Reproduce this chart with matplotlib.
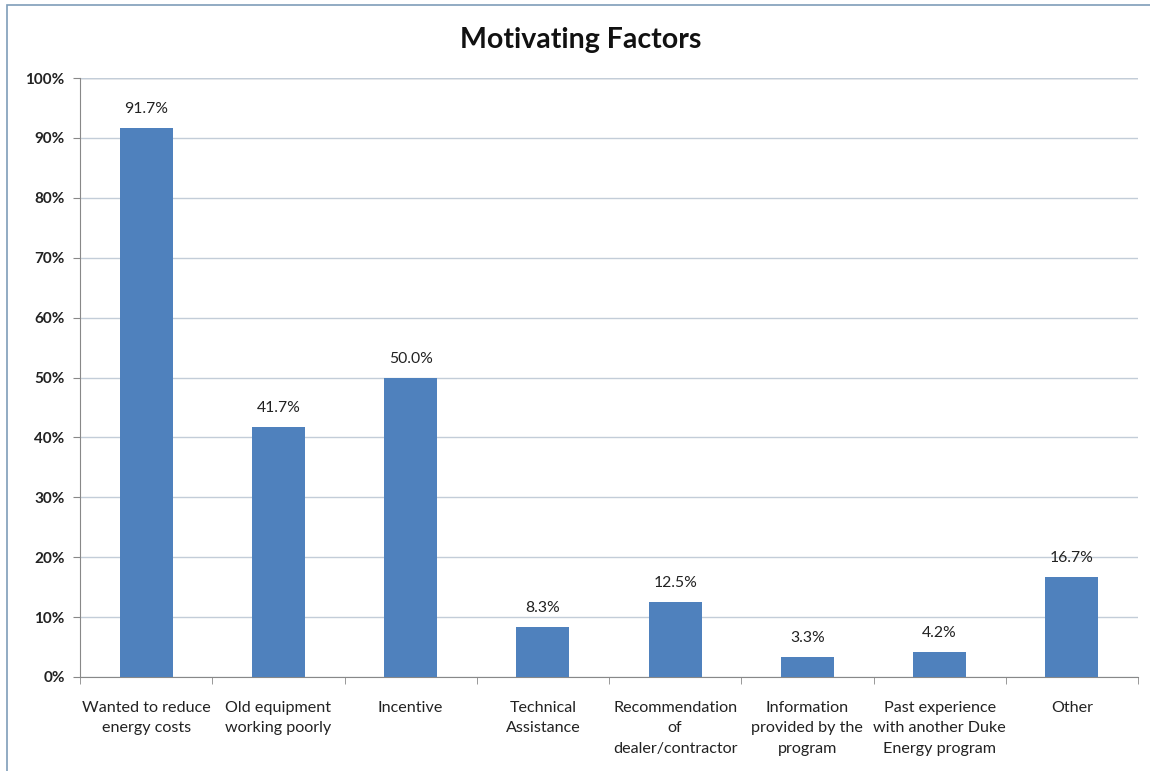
import matplotlib.pyplot as plt
import numpy as np
from matplotlib.patches import Rectangle

categories = ["Wanted to reduce\nenergy costs", "Old equipment\nworking poorly", "Incentive",
              "Technical\nAssistance", "Recommendation\nof\ndealer/contractor",
              "Information\nprovided by the\nprogram", "Past experience\nwith another Duke\nEnergy program",
              "Other"]
values = [91.7, 41.7, 50.0, 8.3, 12.5, 3.3, 4.2, 16.7]
y_ticks = [0, 10, 20, 30, 40, 50, 60, 70, 80, 90, 100]

BAR_COLOR = '#4F81BD'
GRID_COLOR = '#C3CDD8'

plt.rcParams['font.family'] = ['Lato', 'DejaVu Sans']

W, H = 1150, 771
fig = plt.figure(figsize=(W / 100, H / 100), dpi=100)
fig.patch.set_facecolor('white')

# chart border, open to the right and bottom
fig.add_artist(Rectangle((7 / W, -0.1), 1.2, 1.1 - 5 / H, transform=fig.transFigure,
                         fill=False, edgecolor='#7F9DB9', linewidth=1.2))

ax = fig.add_axes([80 / W, 1 - 677 / H, (1138 - 80) / W, (677 - 78) / H])
x = np.arange(len(values))
ax.bar(x, values, width=0.4, color=BAR_COLOR, zorder=3)

for xi, v in zip(x, values):
    ax.text(xi, v + 2.0, '%.1f%%' % v, ha='center', va='bottom', fontsize=11.3, color='#222222')

ax.set_xlim(-0.5, len(values) - 0.5)
ax.set_ylim(0, 100)
ax.set_yticks(y_ticks)
ax.set_yticklabels(['%d%%' % t for t in y_ticks], fontsize=11, fontweight='bold', color='#222222')
ax.yaxis.grid(True, color=GRID_COLOR, linewidth=1, zorder=0)
ax.axhline(100, color='#9AA6B2', linewidth=1, zorder=1)

ax.set_xticks(x)
ax.set_xticklabels(categories, fontsize=11.6, color='#222222', linespacing=1.6, va='top')
ax.tick_params(axis='x', length=0, pad=17)
ax.set_xticks(np.arange(len(values) + 1) - 0.5, minor=True)
ax.tick_params(axis='x', which='minor', length=5, color='#888888', direction='out')
ax.tick_params(axis='y', length=5, color='#888888', direction='out', pad=6)

for side in ['top', 'right']:
    ax.spines[side].set_visible(False)
ax.spines['left'].set_color('#888888')
ax.spines['bottom'].set_color('#888888')

fig.text(581 / W, 1 - 40 / H, 'Motivating Factors', ha='center', va='center',
         fontsize=20.5, fontweight='bold', color='#111111')

fig.savefig('out.png', dpi=100)
